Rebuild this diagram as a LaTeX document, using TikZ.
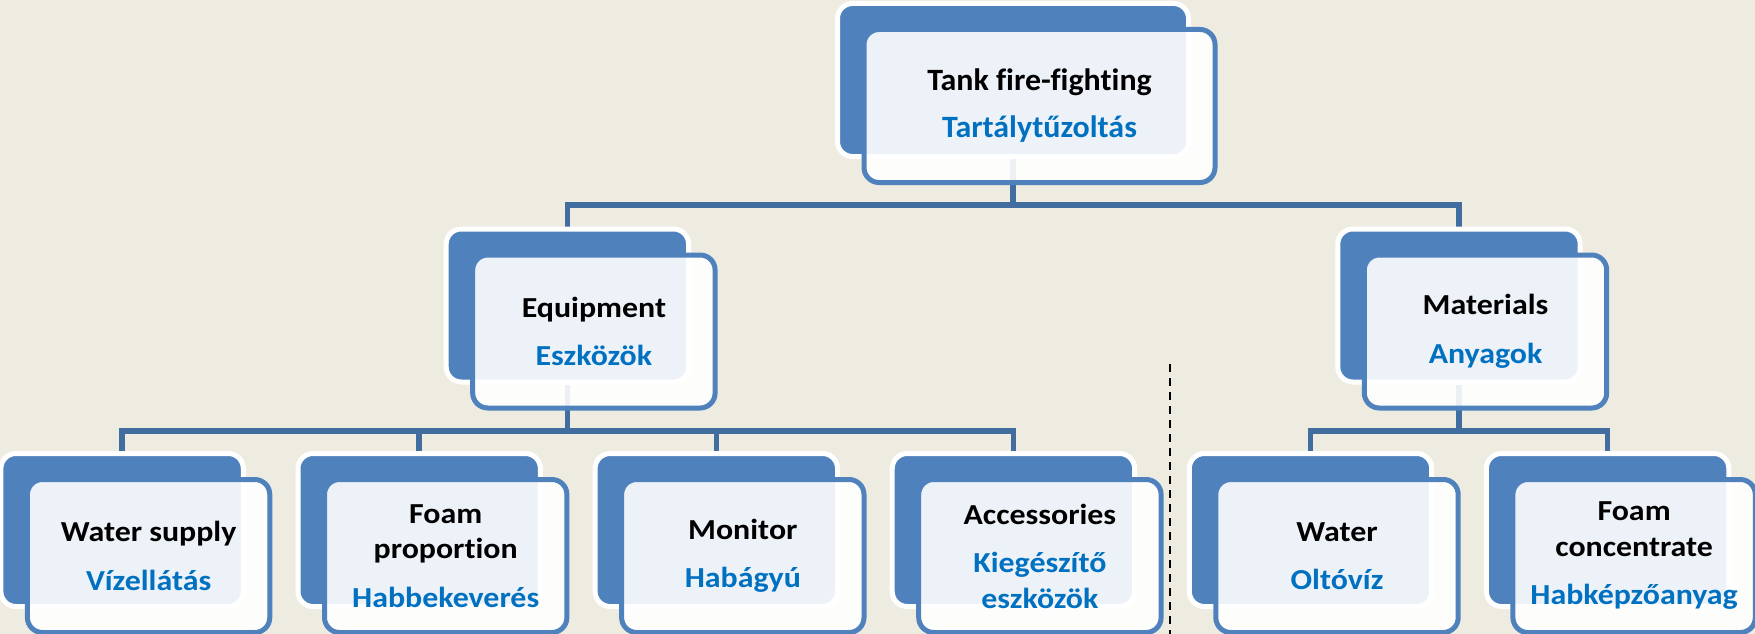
\documentclass[tikz,border=0pt]{standalone}
\usepackage{fontspec}
\setmainfont{Carlito}[FakeStretch=1.1, Ligatures=NoCommon]
\newfontfamily\tankfont{Carlito}[FakeStretch=1.03, Ligatures=NoCommon]
\usepackage{tikz}

\definecolor{boxblue}{RGB}{79,129,189}
\definecolor{linkblue}{RGB}{65,110,158}
\definecolor{huntext}{RGB}{0,112,192}
\definecolor{paper}{RGB}{238,236,225}

\pgfdeclarelayer{background}
\pgfsetlayers{background,main}

\begin{document}
\begin{tikzpicture}[x=1pt, y=-1pt]

\tikzstyle{connector} = [draw=linkblue, line width=5.5pt]
\tikzstyle{divider} = [draw=black, line width=2pt, dash pattern=on 7.5pt off 6.5pt]
\tikzstyle{card} = [rectangle, rounded corners=15pt, draw=white, line width=5pt, fill=boxblue, minimum width=242.4pt, minimum height=153pt, inner sep=0pt]
\tikzstyle{textcard} = [rectangle, rounded corners=15pt, draw=boxblue, line width=5pt, fill=white, fill opacity=0.9, text opacity=1, minimum width=242.4pt, minimum height=153pt, inner sep=0pt, align=center, xshift=26.5pt, yshift=-26pt, font=\bfseries\fontsize{29pt}{35.5pt}\selectfont]
\tikzstyle{wide} = [minimum width=351pt]

\useasboundingbox (0,0) rectangle (1755,634);

\node [card, wide] at (1013,80) (tank) {};
\node [textcard, wide, font=\tankfont\bfseries\fontsize{31pt}{38pt}\selectfont] at (tank) (tank_txt) {Tank fire-fighting\\[9pt]\color{huntext}Tartálytűzoltás};

\node [card] at (567.4,305.5) (equip) {};
\node [textcard] at (equip) (equip_txt) {Equipment\\[13pt]\color{huntext}Eszközök};
\node [card] at (1459,305.5) (mater) {};
\node [textcard] at (mater) (mater_txt) {Materials\\[13pt]\color{huntext}Anyagok};

\node [card] at (122.1,530) (water_sup) {};
\node [textcard] at (water_sup) (water_sup_txt) {Water supply\\[13pt]\color{huntext}Vízellátás};
\node [card] at (419.2,530) (foam_prop) {};
\node [textcard] at (foam_prop) (foam_prop_txt) {Foam\\proportion\\[13pt]\color{huntext}Habbekeverés};
\node [card] at (716.3,530) (monitor) {};
\node [textcard] at (monitor) (monitor_txt) {Monitor\\[13pt]\color{huntext}Habágyú};
\node [card] at (1013.4,530) (access) {};
\node [textcard] at (access) (access_txt) {Accessories\\[13pt]\color{huntext}Kiegészítő\\\color{huntext}eszközök};
\node [card] at (1310.5,530) (water) {};
\node [textcard] at (water) (water_txt) {Water\\[13pt]\color{huntext}Oltóvíz};
\node [card] at (1607.6,530) (foam_conc) {};
\node [textcard] at (foam_conc) (foam_conc_txt) {Foam\\concentrate\\[13pt]\color{huntext}Habképzőanyag};

\coordinate (split_top) at (1170,364);
\coordinate (split_bot) at (1170,634);

\begin{pgfonlayer}{background}
\fill [paper] (0,0) rectangle (1755,634);

\path [connector] (equip) -- ++(0,-100.5) -| (tank.south);
\path [connector] (mater) -- ++(0,-100.5) -| (tank.south);

\path [connector] (water_sup) -- ++(0,-99) -| (equip.south);
\path [connector] (foam_prop) -- ++(0,-99) -| (equip.south);
\path [connector] (monitor) -- ++(0,-99) -| (equip.south);
\path [connector] (access) -- ++(0,-99) -| (equip.south);
\path [connector] (water) -- ++(0,-99) -| (mater.south);
\path [connector] (foam_conc) -- ++(0,-99) -| (mater.south);
\end{pgfonlayer}

\path [divider] (split_top) -- (split_bot);

\end{tikzpicture}
\end{document}
